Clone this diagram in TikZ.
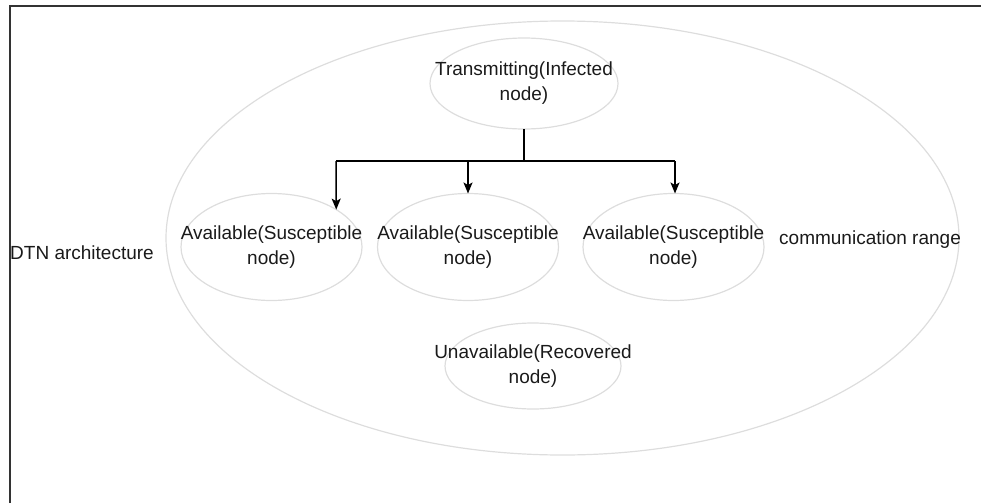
\documentclass[tikz,border=0pt]{standalone}
\usepackage{fontspec}
\setmainfont{Liberation Sans}
\usetikzlibrary{shapes.geometric,arrows.meta}
\definecolor{ringgray}{HTML}{DDDDDD}
\definecolor{inkdark}{HTML}{1A1A1A}
\definecolor{framegray}{HTML}{333333}

\begin{document}
\begin{tikzpicture}[x=1pt,y=-1pt,
  zone/.style={ellipse, draw=ringgray, line width=1.2pt, inner sep=0pt, outer sep=0pt},
  caption/.style={text=inkdark, font=\fontsize{19}{25}\selectfont, align=center, inner sep=0pt},
  link/.style={line width=1.5pt, black},
  feed/.style={link, -{Stealth[length=11pt,width=9pt,inset=2.5pt]}}]
  \useasboundingbox (0,0) rectangle (981,503);

  % frame (left and top edges)
  \draw[line width=2pt, framegray] (10,503) -- (10,6) -- (981,6);

  % communication range
  \node[zone, minimum width=793pt, minimum height=434pt] (range) at (562.5,238) {};

  % states
  \node[zone, minimum width=188pt, minimum height=91pt] (tx) at (524,83.5) {};
  \node[caption] (txl) at (tx.center) {Transmitting(Infected\\node)};

  \node[zone, minimum width=181pt, minimum height=107pt] (s1) at (271.5,247) {};
  \node[caption] (s1l) at (s1.center) {Available(Susceptible\\node)};
  \node[zone, minimum width=181pt, minimum height=107pt] (s2) at (468,247) {};
  \node[caption] (s2l) at (s2.center) {Available(Susceptible\\node)};
  \node[zone, minimum width=181pt, minimum height=107pt] (s3) at (673.5,247) {};
  \node[caption] (s3l) at (s3.center) {Available(Susceptible\\node)};

  \node[zone, minimum width=176pt, minimum height=86pt] (rc) at (533,366) {};
  \node[caption] (rcl) at (rc.center) {Unavailable(Recovered\\node)};

  % side labels
  \node[caption, anchor=west] (dtn) at (10,253) {DTN architecture};
  \node[caption, anchor=west] (comm) at (779,240) {communication range};

  % fan-out connectors
  \coordinate (split) at (524,161);
  \coordinate (barL) at (336,161);
  \coordinate (barM) at (468,161);
  \coordinate (barR) at (675,161);
  \draw[link] (tx.south) -- (split);
  \draw[link] (barL) -- (barR);
  \draw[feed] (barL) -- (s1.30);
  \draw[feed] (barM) -- (barM |- s2.north);
  \draw[feed] (barR) -- (barR |- s3.north);
\end{tikzpicture}
\end{document}
